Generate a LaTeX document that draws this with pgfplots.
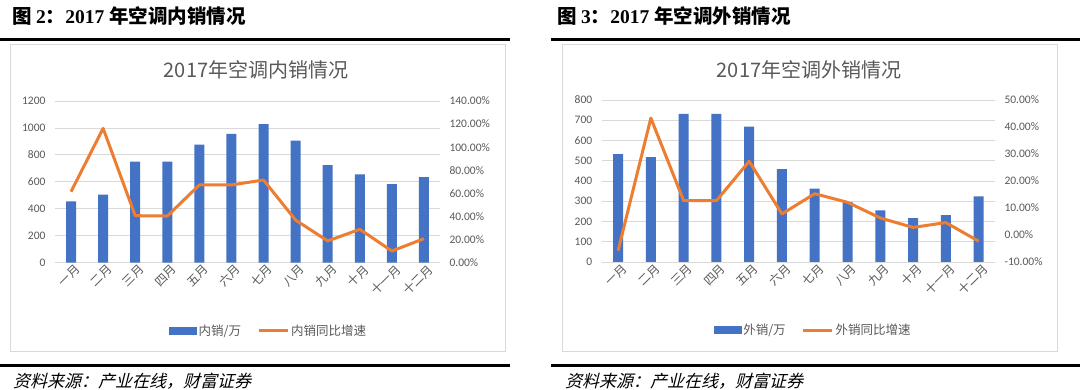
\documentclass[border=0pt]{standalone}
\usepackage{pgfplots}
\pgfplotsset{compat=1.18}
\usepackage{fontspec}
\setmainfont{Carlito}
\newfontfamily\cjk{Noto Sans CJK SC}
\newfontfamily\cjkit[FakeSlant=0.25]{Noto Sans CJK SC}
\newfontfamily\serifb{Liberation Serif}
\definecolor{barblue}{HTML}{4472C4}
\definecolor{lineor}{HTML}{ED7D31}
\definecolor{gridg}{HTML}{D9D9D9}
\definecolor{txtg}{HTML}{595959}
\definecolor{boxg}{HTML}{D9D9D9}

\pgfplotsset{
  base/.style={
    scale only axis, anchor=south west,
    xmin=-0.5, xmax=11.5,
    axis line style={draw=none},
    major tick length=0pt,
    tick style={draw=none},
    tick label style={font=\fontsize{11.5}{12}\selectfont, text=txtg},
  },
  bars/.style={
    base,
    xtick={0,...,11},
    xticklabels={一月,二月,三月,四月,五月,六月,七月,八月,九月,十月,十一月,十二月},
    xticklabel style={font=\cjk\fontsize{12}{12}\selectfont, rotate=45, anchor=east, text=txtg, xshift=5pt, yshift=-8pt},
    ymajorgrids, grid style={gridg, line width=0.8pt},
    yticklabel style={xshift=-6pt},
  },
  lines/.style={
    base,
    xtick=\empty,
    yticklabel pos=right,
    yticklabel style={xshift=6pt},
    legend style={draw=none, fill=none, anchor=center,
      font=\cjk\fontsize{12.5}{13}\selectfont, text=txtg,
      legend columns=2,
      /tikz/every even column/.append style={column sep=14pt}},
    legend cell align=left,
  },
}

\begin{document}
\begin{tikzpicture}[x=1pt,y=1pt]
\useasboundingbox (0,0) rectangle (1080,390);
\fill[white] (0,0) rectangle (1080,390);

% ---------------- left panel ----------------
\node[anchor=west, inner sep=0pt] at (12,374) {\fontsize{19.5}{20}\selectfont{\cjk\bfseries 图 }{\serifb\bfseries 2}{\cjk\bfseries ：}{\serifb\bfseries 2017 }{\cjk\bfseries 年空调内销情况}};
\draw[line width=3pt] (0,350) -- (510,350);
\draw[boxg, line width=1pt] (10,345) rectangle (505,38);
\node[text=txtg] at (256,320) {\cjk\fontsize{20}{20}\selectfont 2017年空调内销情况};

\begin{axis}[bars, at={(55pt,127.3pt)}, width=385pt, height=161.7pt,
  ymin=0, ymax=1200, ytick={0,200,...,1200},
  yticklabels={0,200,400,600,800,1000,1200}]
\addplot[ybar, bar width=10pt, fill=barblue, draw=none] coordinates {
(0,455) (1,505) (2,750) (3,750) (4,876) (5,956) (6,1028) (7,905) (8,725) (9,655) (10,584) (11,635)};
\end{axis}
\begin{axis}[lines, at={(55pt,127.3pt)}, width=385pt, height=161.7pt,
  ymin=0, ymax=140, ytick={0,20,...,140},
  yticklabels={0.00\%,20.00\%,40.00\%,60.00\%,80.00\%,100.00\%,120.00\%,140.00\%},
  legend style={at={(0.555,-0.422)}}]
\addlegendimage{legend image code/.code={\fill[barblue] (0pt,-3.5pt) rectangle (27pt,3.5pt);}}
\addlegendentry{内销/万}
\addplot[lineor, line width=3pt, line join=round,
  legend image code/.code={\draw[lineor,line width=3pt] (0pt,0pt) -- (29pt,0pt);}] coordinates {
(0,61.5) (1,116.3) (2,40.7) (3,40.4) (4,67.3) (5,67.3) (6,71.6) (7,36.9) (8,18.8) (9,28.9) (10,10.1) (11,20.8)};
\addlegendentry{内销同比增速}
\end{axis}
\draw[line width=3pt] (0,24) -- (510,24);
\node[anchor=west, inner sep=0pt] at (13,9) {\cjkit\fontsize{17}{17}\selectfont 资料来源：产业在线，财富证券};

% ---------------- right panel ----------------
\node[anchor=west, inner sep=0pt] at (557,374) {\fontsize{19.5}{20}\selectfont{\cjk\bfseries 图 }{\serifb\bfseries 3}{\cjk\bfseries ：}{\serifb\bfseries 2017 }{\cjk\bfseries 年空调外销情况}};
\draw[line width=3pt] (551,350) -- (1080,350);
\draw[boxg, line width=1pt] (562,345) rectangle (1057,38);
\node[text=txtg] at (809,320) {\cjk\fontsize{20}{20}\selectfont 2017年空调外销情况};

\begin{axis}[bars, at={(601.7pt,128pt)}, width=393.3pt, height=162pt,
  ymin=0, ymax=800, ytick={0,100,...,800},
  yticklabels={0,100,200,300,400,500,600,700,800}]
\addplot[ybar, bar width=10pt, fill=barblue, draw=none] coordinates {
(0,533) (1,518) (2,731) (3,731) (4,668) (5,459) (6,362) (7,296) (8,255) (9,217) (10,232) (11,324)};
\end{axis}
\begin{axis}[lines, at={(601.7pt,128pt)}, width=393.3pt, height=162pt,
  ymin=-10, ymax=50, ytick={-10,0,...,50},
  yticklabels={-10.00\%,0.00\%,10.00\%,20.00\%,30.00\%,40.00\%,50.00\%},
  legend style={at={(0.538,-0.42)}}]
\addlegendimage{legend image code/.code={\fill[barblue] (0pt,-3.5pt) rectangle (27pt,3.5pt);}}
\addlegendentry{外销/万}
\addplot[lineor, line width=3pt, line join=round,
  legend image code/.code={\draw[lineor,line width=3pt] (0pt,0pt) -- (29pt,0pt);}] coordinates {
(0,-5.8) (1,43.3) (2,12.7) (3,12.7) (4,27.3) (5,7.8) (6,15.3) (7,12.1) (8,6.3) (9,2.8) (10,4.6) (11,-2.3)};
\addlegendentry{外销同比增速}
\end{axis}
\draw[line width=3pt] (551,24) -- (1080,24);
\node[anchor=west, inner sep=0pt] at (565,9) {\cjkit\fontsize{17}{17}\selectfont 资料来源：产业在线，财富证券};
\end{tikzpicture}
\end{document}
